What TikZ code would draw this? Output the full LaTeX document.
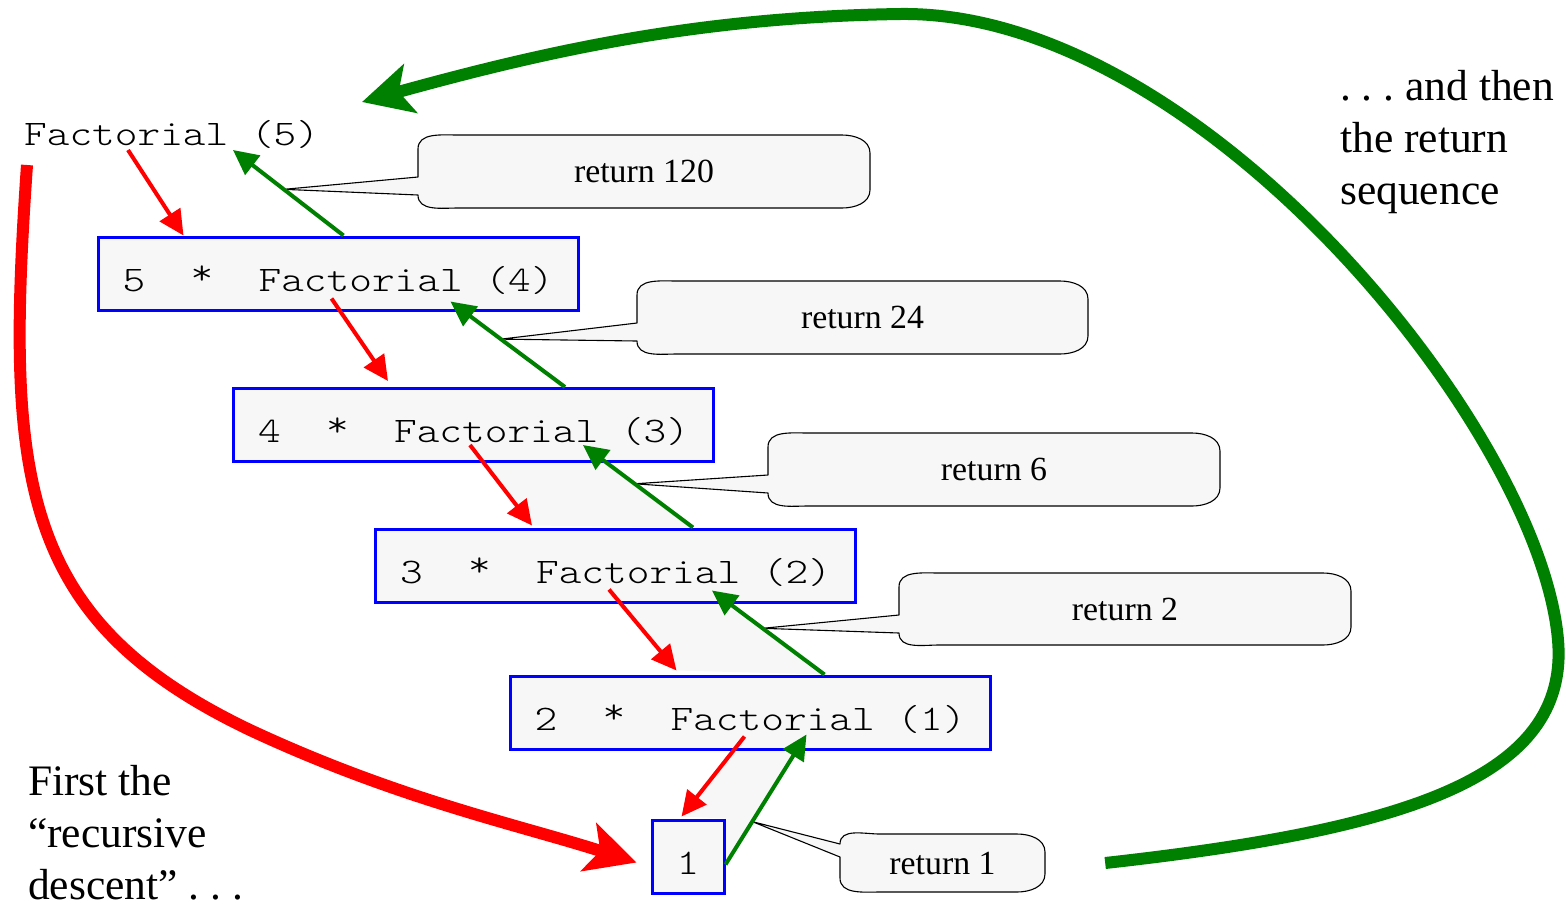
\documentclass[tikz,border=0pt]{standalone}
\usepackage{fontspec}
\setmainfont{Liberation Serif}
\newfontfamily\codefont[FakeStretch=1.2]{Latin Modern Mono Light}
\usetikzlibrary{arrows.meta,calc,backgrounds}

\definecolor{boxblue}{HTML}{0000FF}
\definecolor{paper}{HTML}{F7F7F7}
\definecolor{retgreen}{HTML}{008000}
\definecolor{callred}{HTML}{FF0000}

% raised asterisk, as in a typewriter face
\newcommand\hiast{\raisebox{0.17em}{*}}

\tikzset{
  code/.style={font=\codefont\fontsize{36}{40}\selectfont, inner sep=0pt},
  fbox/.style={code, draw=boxblue, line width=3pt, fill=paper,
               minimum width=480, minimum height=73,
               text height=36pt, text depth=1pt},
  callstep/.style={callred, line width=4pt, -{Triangle[length=25pt,width=24pt]}},
  retstep/.style={retgreen, line width=4pt, -{Triangle[length=25pt,width=24pt]}},
  descent/.style={callred, line width=12pt, -{Stealth[length=50pt,width=50pt,inset=12pt]}},
  ascent/.style={retgreen, line width=12pt, -{Stealth[length=50pt,width=50pt,inset=12pt]}},
  bubbleline/.style={draw=black, line width=1.1pt, fill=paper, line join=round},
  bubbletext/.style={font=\fontsize{33.8}{40}\selectfont, inner sep=0pt},
  note/.style={font=\fontsize{43.5}{52}\selectfont\frenchspacing, align=left, inner sep=0pt},
  band/.style={fill=paper}
}

% speech bubble: name, left, top, right, bottom, upper join, lower join, tail tip, text
\newcommand\bubble[9]{%
  \draw[bubbleline] (#8) -- (#2,#6) -- ({#2},{min(#6,#3+14)})
    to[out=90,in=180] ({#2+40},#3) -- ({#4-28},#3)
    to[out=0,in=90] ({#4},{#3+18}) -- ({#4},{#5-18})
    to[out=-90,in=0] ({#4-28},#5) -- ({#2+40},#5)
    to[out=180,in=-90] ({#2},{max(#7,#5-14)}) -- (#2,#7) -- cycle;
  \node[bubbletext, minimum width={#4-#2}, minimum height={#5-#3}]
    (#1) at ({(#2+#4)/2},{(#3+#5)/2}) {#9};
}

\begin{document}
\begin{tikzpicture}[x=1pt,y=-1pt]
\useasboundingbox (0,0) rectangle (1566,906);

% the call chain
\node[code, anchor=base west] (f5) at (24,145) {Factorial~(5)};
\node[fbox] (b4) at (338,273.5) {5~~\hiast~~Factorial~(4)};
\node[fbox] (b3) at (473.5,425) {4~~\hiast~~Factorial~(3)};
\node[fbox] (b2) at (615.5,565.5) {3~~\hiast~~Factorial~(2)};
\node[fbox] (b1) at (750,712.5) {2~~\hiast~~Factorial~(1)};
\node[fbox, minimum width=72] (b0) at (688,856.5) {1};

% end points of the call and return steps
\coordinate (r1s) at ($(f5.base west)+(104,5)$);
\coordinate (r1e) at ($(b4.north west)+(87,0)$);
\coordinate (g1s) at ($(b4.north west)+(247,0)$);
\coordinate (g1e) at ($(f5.base west)+(209,5)$);
\coordinate (r2s) at ($(b4.south west)+(235,-13)$);
\coordinate (r2e) at ($(b3.north west)+(156,-6)$);
\coordinate (g2s) at ($(b3.north west)+(333,0)$);
\coordinate (g2e) at ($(b4.south west)+(354,-10)$);
\coordinate (r3s) at ($(b3.south west)+(238,-18)$);
\coordinate (r3e) at ($(b2.north west)+(158,-2)$);
\coordinate (g3s) at ($(b2.north west)+(319,0)$);
\coordinate (g3e) at ($(b3.south west)+(351,-18)$);
\coordinate (r4s) at ($(b2.south west)+(235,-14)$);
\coordinate (r4e) at ($(b1.north west)+(168,-4)$);
\coordinate (g4s) at ($(b1.north west)+(316,0)$);
\coordinate (g4e) at ($(b2.south west)+(338,-13)$);
\coordinate (r5s) at ($(b1.south west)+(236,-14)$);
\coordinate (r5e) at ($(b0.north west)+(31,-2)$);
\coordinate (g5s) at ($(b0.east)+(0,8)$);
\coordinate (g5e) at ($(b1.south west)+(298,-16)$);

% where the bubble tails touch the return steps
\path (g1s) -- (g1e) coordinate[pos=0.54] (t1);
\path (g2s) -- (g2e) coordinate[pos=0.56] (t2);
\path (g3s) -- (g3e) coordinate[pos=0.53] (t3);
\path (g4s) -- (g4e) coordinate[pos=0.55] (t4);
\path (g5s) -- (g5e) coordinate[pos=0.33] (t5);

\begin{scope}[on background layer]
  % shaded bands between the lower steps
  \fill[band] (r3s) -- (r3e) -- (g3s) -- (g3e) -- cycle;
  \fill[band] (r4s) -- (r4e) -- (g4s) -- (g4e) -- cycle;
  \fill[band] (r5s) -- (r5e) -- (b0.north east) -- (g5s) -- (g5e) -- cycle;
  % return values
  \bubble{c1}{418}{135}{870}{208}{177}{195}{t1}{return 120}
  \bubble{c2}{637}{281}{1088}{354}{323}{341}{t2}{return 24}
  \bubble{c3}{768}{433}{1220}{506}{475}{493}{t3}{return 6}
  \bubble{c4}{899}{573}{1351}{645}{615}{633}{t4}{return 2}
  \bubble{c5}{840}{834}{1045}{892}{844}{857}{t5}{return 1}
\end{scope}

% call steps
\draw[callstep] (r1s) -- (r1e);
\draw[callstep] (r2s) -- (r2e);
\draw[callstep] (r3s) -- (r3e);
\draw[callstep] (r4s) -- (r4e);
\draw[callstep] (r5s) -- (r5e);
% return steps
\draw[retstep] (g1s) -- (g1e);
\draw[retstep] (g2s) -- (g2e);
\draw[retstep] (g3s) -- (g3e);
\draw[retstep] (g4s) -- (g4e);
\draw[retstep] (g5s) -- (g5e);

% the two overall sweeps
\coordinate (d0) at ($(f5.base west)+(3,20)$);
\coordinate (d1) at ($(b0.west)+(-14,6)$);
\draw[descent] (d0) .. controls (5,480) and (20,620) .. (250,730)
  .. controls (400,800) and (520,825) .. (d1);

\coordinate (a0) at ($(c5.east)+(60,0)$);
\coordinate (a1) at ($(f5.base west)+(338,-43)$);
\draw[ascent] (a0) .. controls (1400,830) and (1570,780) .. (1558,640)
  .. controls (1540,430) and (1200,10) .. (900,14)
  .. controls (700,17) and (550,50) .. (a1);

% captions
\node[note, anchor=north west] (desc) at (28,765) {First the\\“recursive\\descent” . . .};
\node[note, anchor=north west] (retseq) at (1340,70) {. . . and then\\the return\\sequence};
\end{tikzpicture}
\end{document}
